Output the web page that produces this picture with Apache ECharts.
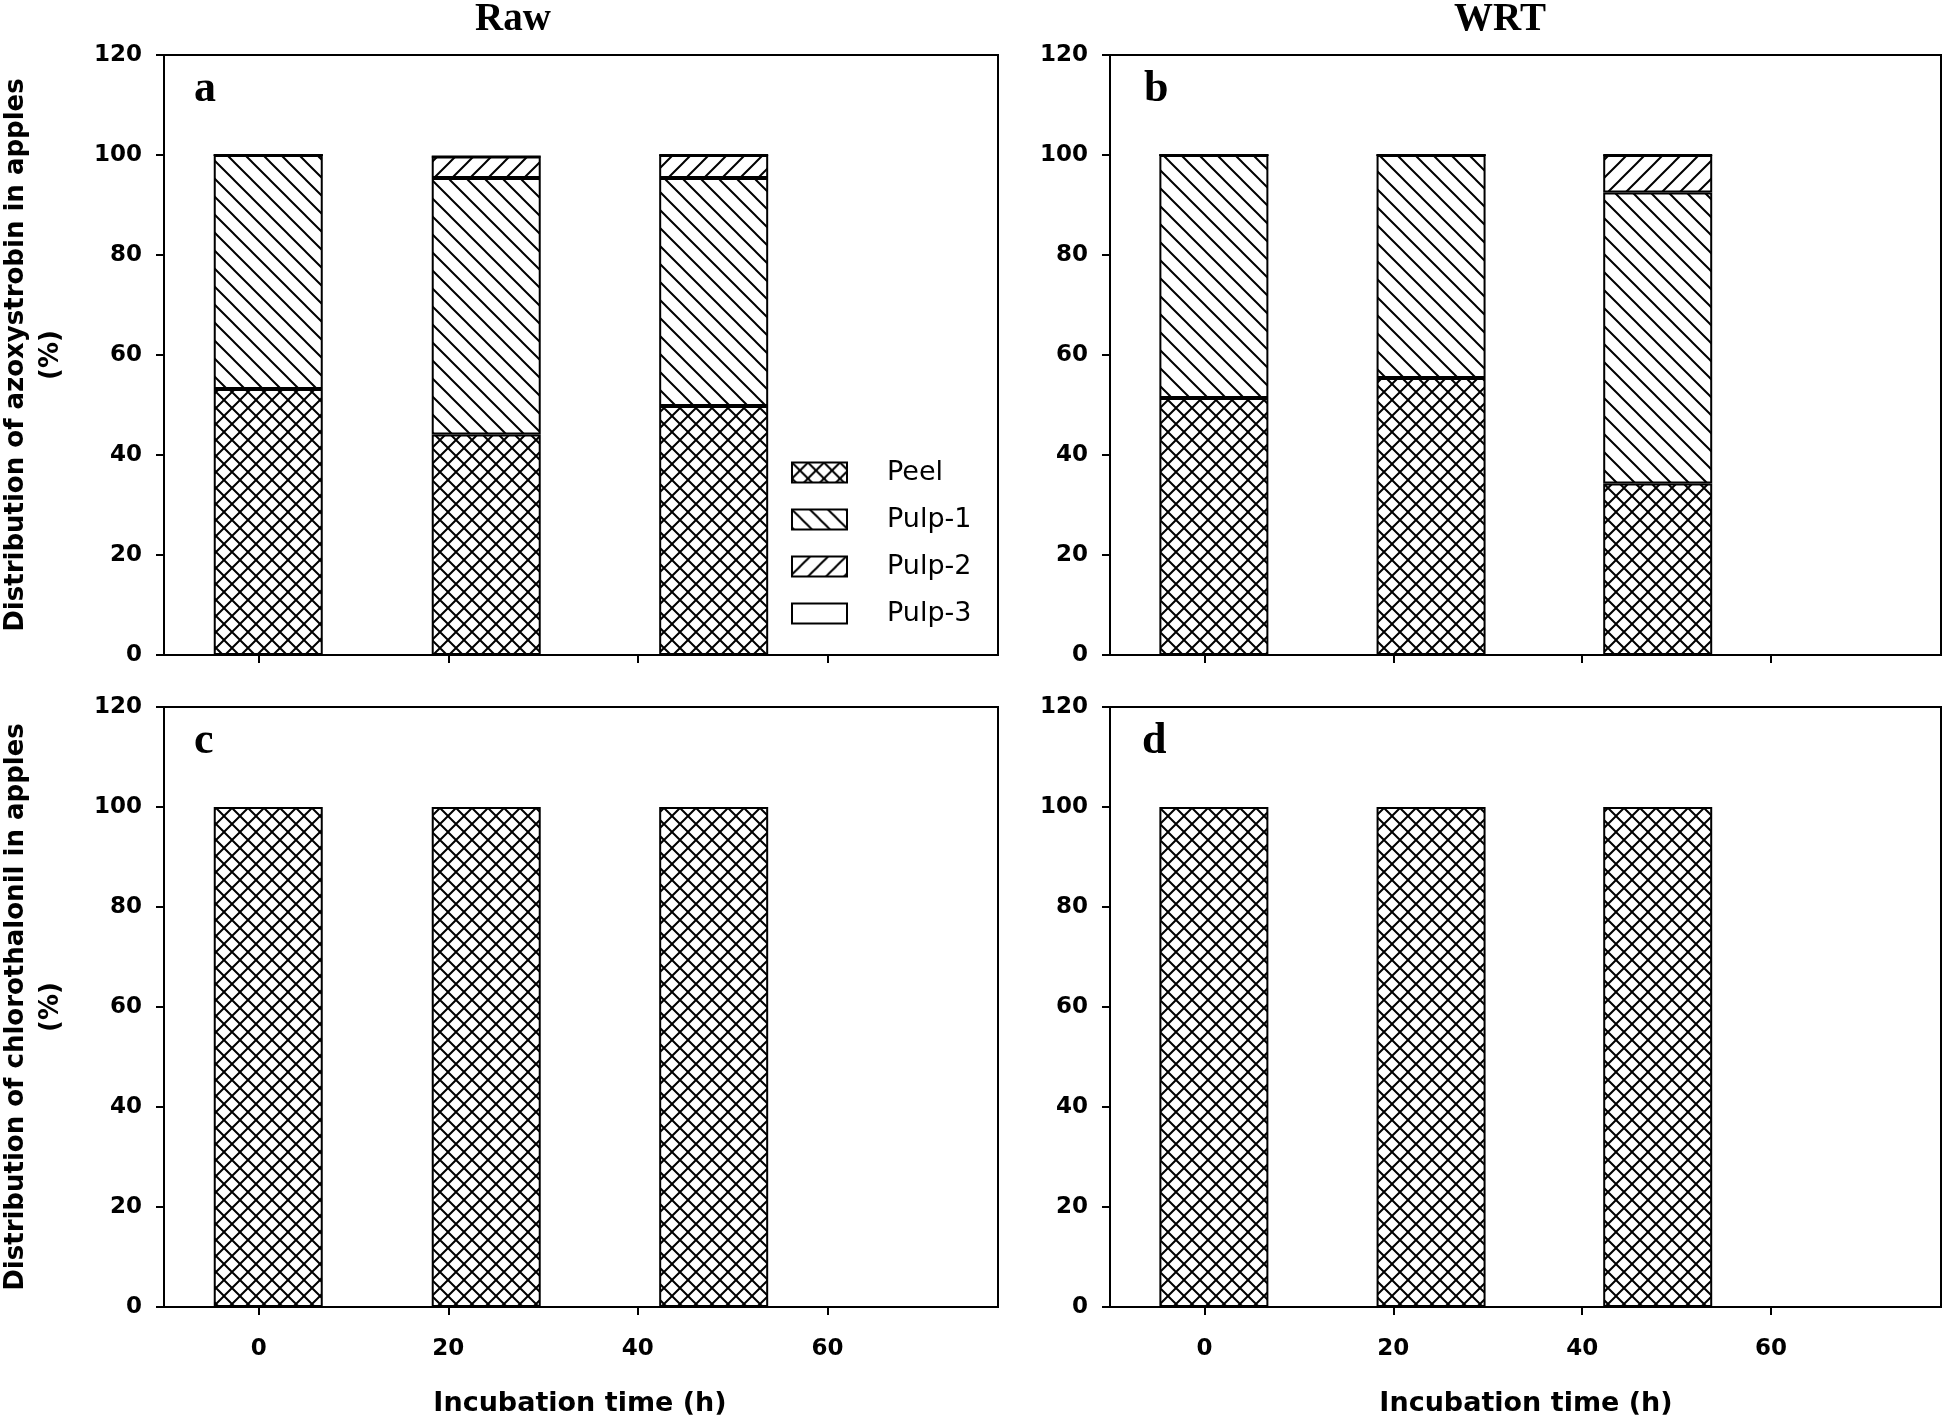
<!DOCTYPE html>
<html>
<head>
<meta charset="utf-8">
<script src="https://cdn.jsdelivr.net/npm/echarts@6/dist/echarts.min.js"></script>
<style>
html,body{margin:0;padding:0;background:#fff;}
#chart{width:1949px;height:1424px;}
</style>
</head>
<body>
<div id="chart"></div>
<script>
// ---- data ----
const times = [1, 24, 48];
const xTicks = [0, 20, 40, 60];
const yTicks = [0, 20, 40, 60, 80, 100, 120];
const partNames = ['Peel', 'Pulp-1', 'Pulp-2', 'Pulp-3'];

const azoRawPeel  = [53.2, 44.1, 49.8];
const azoRawPulp1 = [46.8, 51.3, 45.6];
const azoRawPulp2 = [0, 4.3, 4.6];
const azoRawPulp3 = [0, 0, 0];

const azoWrtPeel  = [51.4, 55.4, 34.3];
const azoWrtPulp1 = [48.6, 44.6, 58.2];
const azoWrtPulp2 = [0, 0, 7.5];
const azoWrtPulp3 = [0, 0, 0];

const chlRawPeel = [100, 100, 100];
const chlWrtPeel = [100, 100, 100];

const panelTitles = ['Raw', 'WRT'];
const panelLetters = ['a', 'b', 'c', 'd'];
const yTitles = ['Distribution of azoxystrobin in apples\n(%)', 'Distribution of chlorothalonil in apples\n(%)'];
const xTitle = 'Incubation time (h)';

// ---- hatch patterns ----
function hatch(kind, s) {
  const c = document.createElement('canvas');
  c.width = s; c.height = s;
  const g = c.getContext('2d');
  g.fillStyle = '#fff';
  g.fillRect(0, 0, s, s);
  g.strokeStyle = '#000';
  g.lineWidth = 2;
  g.beginPath();
  for (let k = -1; k <= 1; k++) {
    if (kind === 'back' || kind === 'cross') {
      g.moveTo(k * s - 1, -1); g.lineTo(k * s + s + 1, s + 1);
    }
    if (kind === 'fwd' || kind === 'cross') {
      g.moveTo(k * s - 1, s + 1); g.lineTo(k * s + s + 1, -1);
    }
  }
  g.stroke();
  return { image: c, repeat: 'repeat' };
}
const fills = {
  'Peel': hatch('cross', 16),
  'Pulp-1': hatch('back', 18),
  'Pulp-2': hatch('fwd', 18),
  'Pulp-3': '#ffffff'
};

const FONT = 'DejaVu Sans';
const SERIF = 'Liberation Serif';

const grids = [
  { left: 164, top: 55, width: 834, height: 600 },
  { left: 1110, top: 55, width: 831, height: 600 },
  { left: 164, top: 707, width: 834, height: 600 },
  { left: 1110, top: 707, width: 831, height: 600 }
];

// value first, time second: stacking is done on the first numeric dimension
function pairs(vals) { return times.map((t, i) => [vals[i], t]); }

function barSeries(name, vals, gi) {
  return {
    type: 'bar', name: name, stack: 'g' + gi,
    xAxisIndex: gi, yAxisIndex: gi,
    barWidth: 109,
    encode: { x: 1, y: 0 },
    data: pairs(vals),
    itemStyle: { color: fills[name], borderColor: '#000', borderWidth: 2 },
    emphasis: { disabled: true }
  };
}

const series = [
  barSeries('Peel', azoRawPeel, 0), barSeries('Pulp-1', azoRawPulp1, 0),
  barSeries('Pulp-2', azoRawPulp2, 0), barSeries('Pulp-3', azoRawPulp3, 0),
  barSeries('Peel', azoWrtPeel, 1), barSeries('Pulp-1', azoWrtPulp1, 1),
  barSeries('Pulp-2', azoWrtPulp2, 1), barSeries('Pulp-3', azoWrtPulp3, 1),
  barSeries('Peel', chlRawPeel, 2), barSeries('Peel', chlWrtPeel, 3)
];

const xAxes = grids.map((g, i) => ({
  type: 'value', gridIndex: i, min: -10, max: 78,
  axisLine: { show: true, onZero: false, lineStyle: { color: '#000', width: 2 } },
  axisTick: { show: true, inside: false, length: 8, customValues: xTicks, lineStyle: { color: '#000', width: 2 } },
  axisLabel: { show: i >= 2, customValues: xTicks, margin: 31, color: '#000', fontFamily: FONT, fontWeight: 'bold', fontSize: 23 },
  splitLine: { show: false }
}));

const yAxes = grids.map((g, i) => ({
  type: 'value', gridIndex: i, min: yTicks[0], max: yTicks[yTicks.length - 1], interval: 20,
  axisLine: { show: true, onZero: false, lineStyle: { color: '#000', width: 2 } },
  axisTick: { show: true, inside: false, length: 8, lineStyle: { color: '#000', width: 2 } },
  axisLabel: { margin: 22, color: '#000', fontFamily: FONT, fontWeight: 'bold', fontSize: 23 },
  splitLine: { show: false }
}));

const graphics = [];
graphics.push({ type: 'text', x: 513, y: 20, style: { text: panelTitles[0], align: 'center', verticalAlign: 'middle', font: 'bold 39px "' + SERIF + '"', fill: '#000' } });
graphics.push({ type: 'text', x: 1500, y: 20, style: { text: panelTitles[1], align: 'center', verticalAlign: 'middle', font: 'bold 39px "' + SERIF + '"', fill: '#000' } });
const letterPos = [[194, 90], [1144, 90], [194, 742], [1142, 742]];
panelLetters.forEach((l, i) => {
  graphics.push({ type: 'text', x: letterPos[i][0], y: letterPos[i][1], style: { text: l, align: 'left', verticalAlign: 'middle', font: 'bold 44px "' + SERIF + '"', fill: '#000' } });
});
graphics.push({ type: 'text', x: 34, y: 355, rotation: Math.PI / 2, style: { text: yTitles[0], align: 'center', verticalAlign: 'middle', font: 'bold 26px "' + FONT + '"', lineHeight: 35, fill: '#000' } });
graphics.push({ type: 'text', x: 34, y: 1007, rotation: Math.PI / 2, style: { text: yTitles[1], align: 'center', verticalAlign: 'middle', font: 'bold 26px "' + FONT + '"', lineHeight: 35, fill: '#000' } });
graphics.push({ type: 'text', x: 580, y: 1404, style: { text: xTitle, align: 'center', verticalAlign: 'middle', font: 'bold 27px "' + FONT + '"', fill: '#000' } });
graphics.push({ type: 'text', x: 1526, y: 1404, style: { text: xTitle, align: 'center', verticalAlign: 'middle', font: 'bold 27px "' + FONT + '"', fill: '#000' } });

const option = {
  animation: false,
  backgroundColor: '#fff',
  grid: grids.map(g => Object.assign({ show: true, borderColor: '#000', borderWidth: 2, backgroundColor: 'transparent', containLabel: false, outerBoundsMode: 'none' }, g)),
  xAxis: xAxes,
  yAxis: yAxes,
  legend: {
    data: partNames,
    orient: 'vertical',
    left: 791, top: 459,
    padding: 0,
    icon: 'rect',
    itemWidth: 55, itemHeight: 20, itemGap: 20,
    selectedMode: false,
    itemStyle: { borderColor: '#000', borderWidth: 2 },
    textStyle: { fontFamily: FONT, fontSize: 27, color: '#000', lineHeight: 20, padding: [0, 0, 0, 35] }
  },
  series: series,
  graphic: graphics
};

const chart = echarts.init(document.getElementById('chart'), null, { renderer: 'canvas' });
chart.setOption(option);
</script>
</body>
</html>
